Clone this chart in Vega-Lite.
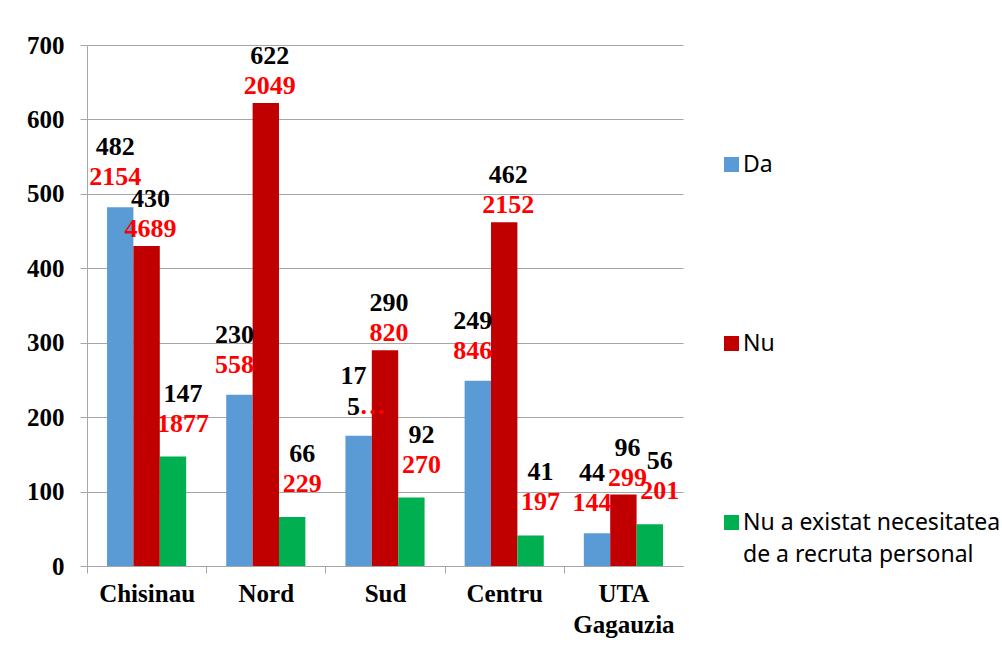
{
  "$schema": "https://vega.github.io/schema/vega-lite/v6.json",
  "width": 596,
  "height": 521,
  "autosize": {"type": "none"},
  "padding": {"left": 87, "top": 45, "right": 319, "bottom": 80},
  "background": "white",
  "config": {"view": {"stroke": null}},
  "data": {
    "values": [
      {"region": "Chisinau", "series": "Da", "value": 482, "top": "482", "red": "2154"},
      {"region": "Chisinau", "series": "Nu", "value": 430, "top": "430", "red": "4689"},
      {"region": "Chisinau", "series": "Nu a existat necesitatea de a recruta personal", "value": 147, "top": "147", "red": "1877"},
      {"region": "Nord", "series": "Da", "value": 230, "top": "230", "red": "558"},
      {"region": "Nord", "series": "Nu", "value": 622, "top": "622", "red": "2049"},
      {"region": "Nord", "series": "Nu a existat necesitatea de a recruta personal", "value": 66, "top": "66", "red": "229"},
      {"region": "Sud", "series": "Da", "value": 175, "top": "17\n5", "red": "\u2026"},
      {"region": "Sud", "series": "Nu", "value": 290, "top": "290", "red": "820"},
      {"region": "Sud", "series": "Nu a existat necesitatea de a recruta personal", "value": 92, "top": "92", "red": "270"},
      {"region": "Centru", "series": "Da", "value": 249, "top": "249", "red": "846"},
      {"region": "Centru", "series": "Nu", "value": 462, "top": "462", "red": "2152"},
      {"region": "Centru", "series": "Nu a existat necesitatea de a recruta personal", "value": 41, "top": "41", "red": "197"},
      {"region": "UTA Gagauzia", "series": "Da", "value": 44, "top": "44", "red": "144"},
      {"region": "UTA Gagauzia", "series": "Nu", "value": 96, "top": "96", "red": "299"},
      {"region": "UTA Gagauzia", "series": "Nu a existat necesitatea de a recruta personal", "value": 56, "top": "56", "red": "201"}
    ]
  },
  "encoding": {
    "x": {
      "field": "region",
      "type": "nominal",
      "sort": ["Chisinau", "Nord", "Sud", "Centru", "UTA Gagauzia"],
      "scale": {"paddingInner": 0.336, "paddingOuter": 0.168},
      "axis": {
        "title": null,
        "labelAngle": 0,
        "grid": false,
        "domainColor": "#A6A6A6",
        "tickColor": "#A6A6A6",
        "tickSize": 7,
        "tickOffset": -59.6,
        "labelOffset": 59.6,
        "labelFont": "Liberation Serif",
        "labelFontSize": 25,
        "labelFontWeight": "bold",
        "labelColor": "black",
        "labelPadding": 8,
        "labelLineHeight": 31,
        "labelExpr": "split(datum.label, ' ')"
      }
    },
    "xOffset": {
      "field": "series",
      "type": "nominal",
      "sort": ["Da", "Nu", "Nu a existat necesitatea de a recruta personal"],
      "scale": {"paddingInner": 0, "paddingOuter": 0}
    },
    "y": {
      "field": "value",
      "type": "quantitative",
      "scale": {"domain": [0, 700], "nice": false},
      "axis": {
        "title": null,
        "values": [0, 100, 200, 300, 400, 500, 600, 700],
        "grid": true,
        "gridColor": "#A6A6A6",
        "domainColor": "#A6A6A6",
        "tickColor": "#A6A6A6",
        "tickSize": 7,
        "labelFont": "Liberation Serif",
        "labelFontSize": 25,
        "labelFontWeight": "bold",
        "labelColor": "black",
        "labelPadding": 16
      }
    }
  },
  "layer": [
    {
      "mark": {"type": "bar"},
      "encoding": {
        "color": {
          "field": "series",
          "type": "nominal",
          "scale": {
            "domain": ["Da", "Nu", "Nu a existat necesitatea de a recruta personal"],
            "range": ["#5B9BD5", "#C00000", "#00B050"]
          },
          "legend": {
            "orient": "none",
            "legendX": 633,
            "legendY": 108,
            "title": null,
            "padding": 0,
            "symbolType": "square",
            "symbolSize": 225,
            "symbolStrokeWidth": 0,
            "labelFont": "Noto Sans",
            "labelFontSize": 23,
            "labelColor": "black",
            "labelLimit": 400,
            "labelOffset": 0,
            "rowPadding": 155,
            "labelExpr": "datum.label == 'Nu a existat necesitatea de a recruta personal' ? ['Nu a existat necesitatea', 'de a recruta personal'] : datum.label",
            "encode": {"labels": {"update": {"lineHeight": {"value": 32}}}}
          }
        }
      }
    },
    {
      "mark": {
        "type": "text",
        "baseline": "top",
        "dy": {"expr": "datum.series == 'Da' ? -73 : datum.series == 'Nu' ? -60 : -76"},
        "dx": {"expr": "datum.series == 'Da' ? -5 : datum.series == 'Nu' ? 4 : 10"},
        "font": "Liberation Serif",
        "fontSize": 26,
        "fontWeight": 700,
        "lineBreak": "\n",
        "lineHeight": 31,
        "color": "black"
      },
      "encoding": {"text": {"field": "top", "type": "nominal"}}
    },
    {
      "mark": {
        "type": "text",
        "baseline": "middle",
        "dy": {"expr": "datum.series == 'Da' ? -30 : datum.series == 'Nu' ? -17 : -33"},
        "dx": {"expr": "datum.red == '\u2026' ? 14 : datum.series == 'Da' ? -5 : datum.series == 'Nu' ? 4 : 10"},
        "font": "Liberation Serif",
        "fontSize": 26,
        "fontWeight": 700,
        "color": "#FF0000"
      },
      "encoding": {"text": {"field": "red", "type": "nominal"}}
    }
  ]
}
